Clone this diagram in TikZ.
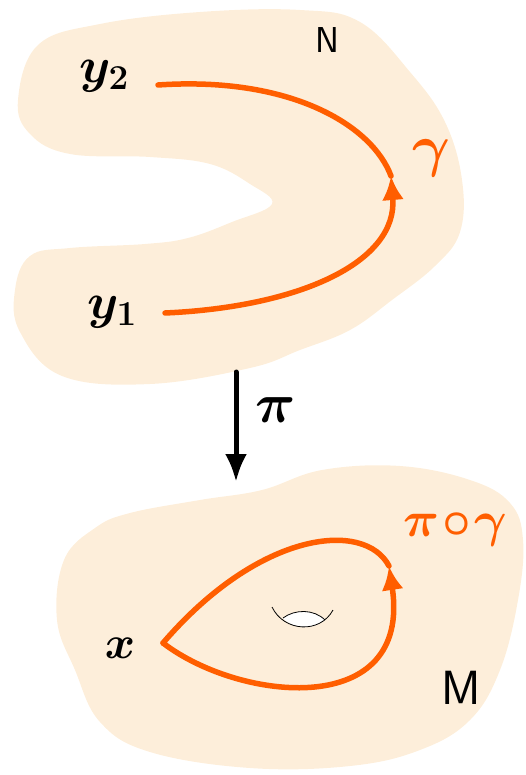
\RequirePackage{fix-cm}
\documentclass[tikz,border=0pt]{standalone}
\usepackage{amsmath,amssymb,bm}
\usepackage{tikz}
\usetikzlibrary{arrows.meta, calc}
\definecolor{peach}{HTML}{FDEEDA}
\definecolor{curveor}{HTML}{FF5E00}
\tikzset{
  blob/.style     = {fill=peach, draw=none},
  gline/.style    = {draw=curveor, line width=5.5pt, line cap=round},
  garrow/.style   = {gline, -{Latex[length=24pt, width=22pt]}},
  maparrow/.style = {draw=black, line width=5pt, line cap=round,
                     -{Latex[length=28pt, width=22pt]}},
  ptlbl/.style    = {font=\fontsize{50}{50}\selectfont\boldmath, inner sep=0pt},
  orlbl/.style    = {font=\fontsize{50}{50}\selectfont\boldmath, text=curveor, inner sep=0pt},
  mfdlbl/.style   = {font=\fontsize{36}{36}\selectfont\sffamily, inner sep=0pt},
}
\begin{document}
\begin{tikzpicture}[x=1pt, y=-1pt]
    \useasboundingbox (0,0) rectangle (526,775);

    % Top : the space N
    \fill[blob] plot[smooth cycle, tension=0.65] coordinates {
      (18,100) (38,45) (100,24) (200,12) (300,10) (360,22) (410,72)
      (445,122) (462,180) (460,232) (435,266) (392,300) (350,330)
      (300,350) (250,368) (150,384) (62,376) (20,332) (15,290)
      (30,256) (70,248) (145,244) (188,238) (232,222) (272,204)
      (250,184) (210,164) (150,157) (70,154) (30,134)};
    \node[mfdlbl] (nlbl) at (327,40) {N};

    \coordinate (g1) at (165,313);
    \coordinate (gm) at (391,176);
    \coordinate (g2) at (158,85);
    \node[ptlbl]  (y1)  at (112,312) {$y_1$};
    \node[ptlbl]  (y2)  at (104,76)  {$y_2$};
    \node[orlbl, font=\fontsize{58}{58}\selectfont\boldmath] (gam) at (431,158) {$\gamma$};

    \draw[garrow] (g1) .. controls (300,307) and (398,262) .. (gm);
    \draw[gline]  (gm) .. controls (372,125) and (290,76) .. (g2);

    % Projection pi
    \coordinate (ptop) at (236,372);
    \coordinate (pbot) at (236,482);
    \draw[maparrow] (ptop) -- (pbot);
    \node[ptlbl, font=\fontsize{56}{56}\selectfont\boldmath] (pi) at (276,410) {$\pi$};

    % Bottom : the base M
    \fill[blob] plot[smooth cycle, tension=0.65] coordinates {
      (130,513) (200,500) (262,490) (322,470) (400,466) (470,480)
      (510,503) (523,540) (518,600) (500,670) (470,720) (420,750)
      (350,766) (250,768) (150,752) (100,722) (75,670) (57,620)
      (64,560) (95,528)};
    \node[mfdlbl, font=\fontsize{48}{48}\selectfont\sffamily] (mlbl) at (461,688) {M};

    \coordinate (xv) at (163,643);
    \coordinate (lm) at (389,566);
    \node[ptlbl, font=\fontsize{46}{46}\selectfont\boldmath] (xpt) at (120,648) {$x$};
    \node[orlbl] (pig) at (455,530) {$\pi\mkern1mu{\circ}\mkern1mu\gamma$};

    \draw[garrow] (xv) .. controls (240,702) and (412,720) .. (lm);
    \draw[gline]  (lm) .. controls (365,520) and (260,530) .. (xv);

    % hole
    \fill[white] (283,618) .. controls (295,609) and (314,609) .. (325,620)
                 .. controls (312,630) and (293,630) .. cycle;
    \draw[line width=0.8pt] (272,607) .. controls (284,632) and (320,634) .. (333,610);
    \draw[line width=0.8pt] (283,618) .. controls (295,609) and (314,609) .. (325,620);
  \end{tikzpicture}
\end{document}
